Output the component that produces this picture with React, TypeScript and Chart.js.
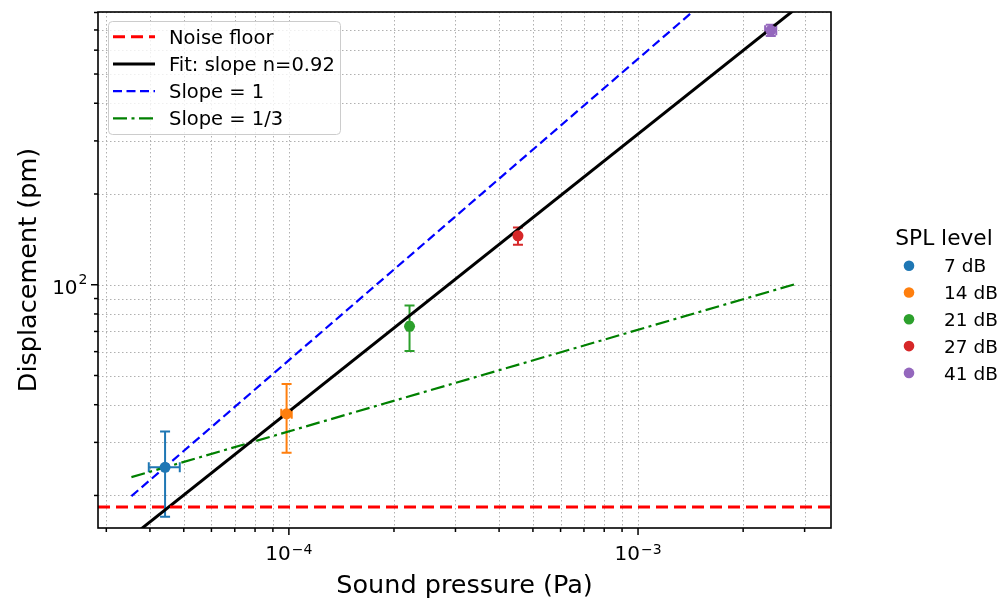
import React, { useEffect, useRef } from 'react';
import { Chart, registerables } from 'chart.js';

Chart.register(...registerables);

// ---------------- data ----------------
const SPL_LEVELS = ['7 dB', '14 dB', '21 dB', '27 dB', '41 dB'];
const SPL_COLORS = ['#1f77b4', '#ff7f0e', '#2ca02c', '#d62728', '#9467bd'];
const PRESSURE_PA = [4.42e-5, 9.85e-5, 2.216e-4, 4.53e-4, 2.4e-3];
const PRESSURE_ERR = [4.5e-6, 3.4e-6, 3.0e-6, 4.0e-6, 8.8e-5];
const DISPLACEMENT_PM = [24.8, 37.3, 72.8, 145.3, 698];
const DISPLACEMENT_ERR = [7.8, 9.6, 12.5, 9.5, 30];

const NOISE_FLOOR_PM = 18.3;
const REF_LINE_X = [3.54e-5, 2.86e-3];
const FIT_LINE_Y = [14.6, 832];
const SLOPE1_LINE_Y = [19.9, 1605];
const SLOPE13_LINE_Y = [23.0, 101];

const X_MIN = 2.84e-5;
const X_MAX = 3.57e-3;
const Y_MIN = 15.6;
const Y_MAX = 803;

const X_TICKS = [
  3e-5, 4e-5, 5e-5, 6e-5, 7e-5, 8e-5, 9e-5,
  1e-4, 2e-4, 3e-4, 4e-4, 5e-4, 6e-4, 7e-4, 8e-4, 9e-4,
  1e-3, 2e-3, 3e-3,
];
const X_MAJOR_TICKS = [1e-4, 1e-3];
const X_MAJOR_EXP = ['\u22124', '\u22123'];
const Y_TICKS = [20, 30, 40, 50, 60, 70, 80, 90, 100, 200, 300, 400, 500, 600, 700, 800];
const Y_MAJOR_TICKS = [100];
const Y_MAJOR_EXP = ['2'];

const X_TITLE = 'Sound pressure (Pa)';
const Y_TITLE = 'Displacement (pm)';
const LEGEND_TITLE = 'SPL level';

const FONT = "'DejaVu Sans', 'Liberation Sans', sans-serif";

const LINE_DEFS = [
  { label: 'Noise floor', color: '#ff0000', width: 3, dash: [12, 6] },
  { label: 'Fit: slope n=0.92', color: '#000000', width: 3, dash: [] as number[] },
  { label: 'Slope = 1', color: '#0000ff', width: 2.2, dash: [9, 4.5] },
  { label: 'Slope = 1/3', color: '#008000', width: 2.2, dash: [14, 4.5, 3, 4.5] },
];

const decorPlugin = {
  id: 'decor',
  beforeDatasetsDraw(chart: any) {
    const { ctx, chartArea: a } = chart;
    const xs = chart.scales.x;
    const ys = chart.scales.y;
    ctx.save();
    ctx.beginPath();
    ctx.rect(a.left, a.top, a.right - a.left, a.bottom - a.top);
    ctx.clip();
    // grid
    ctx.strokeStyle = '#b0b0b0';
    ctx.lineWidth = 1;
    ctx.setLineDash([1.5, 2.5]);
    for (const v of X_TICKS) {
      const px = Math.round(xs.getPixelForValue(v)) + 0.5;
      ctx.beginPath();
      ctx.moveTo(px, a.top);
      ctx.lineTo(px, a.bottom);
      ctx.stroke();
    }
    for (const v of Y_TICKS) {
      const py = Math.round(ys.getPixelForValue(v)) + 0.5;
      ctx.beginPath();
      ctx.moveTo(a.left, py);
      ctx.lineTo(a.right, py);
      ctx.stroke();
    }
    // error bars
    ctx.setLineDash([]);
    ctx.lineWidth = 2;
    const cap = 5;
    SPL_LEVELS.forEach((_, i) => {
      ctx.strokeStyle = SPL_COLORS[i];
      const cx = xs.getPixelForValue(PRESSURE_PA[i]);
      const cy = ys.getPixelForValue(DISPLACEMENT_PM[i]);
      const x0 = xs.getPixelForValue(PRESSURE_PA[i] - PRESSURE_ERR[i]);
      const x1 = xs.getPixelForValue(PRESSURE_PA[i] + PRESSURE_ERR[i]);
      const y0 = ys.getPixelForValue(DISPLACEMENT_PM[i] - DISPLACEMENT_ERR[i]);
      const y1 = ys.getPixelForValue(DISPLACEMENT_PM[i] + DISPLACEMENT_ERR[i]);
      ctx.beginPath();
      ctx.moveTo(x0, cy); ctx.lineTo(x1, cy);
      ctx.moveTo(x0, cy - cap); ctx.lineTo(x0, cy + cap);
      ctx.moveTo(x1, cy - cap); ctx.lineTo(x1, cy + cap);
      ctx.moveTo(cx, y0); ctx.lineTo(cx, y1);
      ctx.moveTo(cx - cap, y0); ctx.lineTo(cx + cap, y0);
      ctx.moveTo(cx - cap, y1); ctx.lineTo(cx + cap, y1);
      ctx.stroke();
    });
    ctx.restore();
  },
  afterDraw(chart: any) {
    const { ctx, chartArea: a } = chart;
    const xs = chart.scales.x;
    const ys = chart.scales.y;
    ctx.save();
    // spines
    ctx.strokeStyle = '#000';
    ctx.lineWidth = 1.6;
    ctx.setLineDash([]);
    ctx.strokeRect(a.left, a.top, a.right - a.left, a.bottom - a.top);
    // ticks
    ctx.lineWidth = 1.5;
    for (const v of X_TICKS) {
      const px = xs.getPixelForValue(v);
      const len = X_MAJOR_TICKS.includes(v) ? 7 : 4;
      ctx.beginPath();
      ctx.moveTo(px, a.bottom);
      ctx.lineTo(px, a.bottom + len);
      ctx.stroke();
    }
    for (const v of Y_TICKS) {
      const py = ys.getPixelForValue(v);
      const len = Y_MAJOR_TICKS.includes(v) ? 7 : 4;
      ctx.beginPath();
      ctx.moveTo(a.left - len, py);
      ctx.lineTo(a.left, py);
      ctx.stroke();
    }
    // tick labels
    ctx.fillStyle = '#000';
    ctx.textBaseline = 'alphabetic';
    ctx.textAlign = 'left';
    const mainFont = `20px ${FONT}`;
    const supFont = `14px ${FONT}`;
    X_MAJOR_TICKS.forEach((v, i) => {
      const px = xs.getPixelForValue(v);
      ctx.font = mainFont;
      const w1 = ctx.measureText('10').width;
      ctx.font = supFont;
      const w2 = ctx.measureText(X_MAJOR_EXP[i]).width;
      const start = px - (w1 + 1 + w2) / 2;
      ctx.font = mainFont;
      ctx.fillText('10', start, a.bottom + 32);
      ctx.font = supFont;
      ctx.fillText(X_MAJOR_EXP[i], start + w1 + 1, a.bottom + 25.5);
    });
    Y_MAJOR_TICKS.forEach((v, i) => {
      const py = ys.getPixelForValue(v);
      ctx.font = mainFont;
      const w1 = ctx.measureText('10').width;
      ctx.font = supFont;
      const w2 = ctx.measureText(Y_MAJOR_EXP[i]).width;
      const right = a.left - 10.5;
      const start = right - (w1 + 1 + w2);
      ctx.font = mainFont;
      ctx.fillText('10', start, py + 9.3);
      ctx.font = supFont;
      ctx.fillText(Y_MAJOR_EXP[i], start + w1 + 1, py - 0.5);
    });
    // axis titles
    ctx.font = `25.5px ${FONT}`;
    ctx.textAlign = 'center';
    ctx.fillText(X_TITLE, (a.left + a.right) / 2, 593);
    ctx.save();
    ctx.translate(35.7, (a.top + a.bottom) / 2);
    ctx.rotate(-Math.PI / 2);
    ctx.fillText(Y_TITLE, 0, 0);
    ctx.restore();

    // legend 1 (inside, upper left)
    ctx.beginPath();
    if (ctx.roundRect) ctx.roundRect(108.5, 21.5, 232, 113, 4);
    else ctx.rect(108.5, 21.5, 232, 113);
    ctx.fillStyle = 'rgba(255,255,255,0.8)';
    ctx.fill();
    ctx.strokeStyle = '#cccccc';
    ctx.lineWidth = 1;
    ctx.stroke();
    ctx.font = `19.5px ${FONT}`;
    ctx.textAlign = 'left';
    LINE_DEFS.forEach((d, i) => {
      const ry = 36.7 + i * 27.2;
      ctx.strokeStyle = d.color;
      ctx.lineWidth = d.width;
      ctx.setLineDash(d.dash);
      ctx.beginPath();
      ctx.moveTo(113, ry);
      ctx.lineTo(155, ry);
      ctx.stroke();
      ctx.setLineDash([]);
      ctx.fillStyle = '#000';
      ctx.fillText(d.label, 169, ry + 7.1);
    });

    // legend 2 (outside right)
    ctx.fillStyle = '#000';
    ctx.font = `21.7px ${FONT}`;
    ctx.textAlign = 'center';
    ctx.fillText(LEGEND_TITLE, 944, 245);
    ctx.font = `18.5px ${FONT}`;
    ctx.textAlign = 'left';
    SPL_LEVELS.forEach((lab, i) => {
      const ry = 265.7 + i * 26.8;
      ctx.fillStyle = SPL_COLORS[i];
      ctx.beginPath();
      ctx.arc(909, ry, 5.3, 0, Math.PI * 2);
      ctx.fill();
      ctx.fillStyle = '#000';
      ctx.fillText(lab, 944, ry + 6.7);
    });
    ctx.restore();
  },
};

export default function App() {
  const ref = useRef<HTMLCanvasElement>(null);
  useEffect(() => {
    const pointSets = SPL_LEVELS.map((lab, i) => ({
      label: lab,
      data: [{ x: PRESSURE_PA[i], y: DISPLACEMENT_PM[i] }],
      showLine: false,
      pointRadius: 5.5,
      pointHoverRadius: 5.5,
      pointBackgroundColor: SPL_COLORS[i],
      pointBorderColor: SPL_COLORS[i],
      pointBorderWidth: 0,
      order: 0,
    }));
    const lineY = [
      [NOISE_FLOOR_PM, NOISE_FLOOR_PM],
      FIT_LINE_Y,
      SLOPE1_LINE_Y,
      SLOPE13_LINE_Y,
    ];
    const lineX = [[X_MIN, X_MAX], REF_LINE_X, REF_LINE_X, REF_LINE_X];
    const lineSets = LINE_DEFS.map((d, k) => ({
      label: d.label,
      data: lineX[k].map((x, j) => ({ x, y: lineY[k][j] })),
      showLine: true,
      borderColor: d.color,
      backgroundColor: d.color,
      borderWidth: d.width,
      borderDash: d.dash,
      borderCapStyle: 'butt',
      pointRadius: 0,
      fill: false,
      order: 1,
    }));
    const chart = new Chart(ref.current as HTMLCanvasElement, {
      type: 'scatter',
      data: { datasets: [...pointSets, ...lineSets] as any },
      options: {
        animation: false,
        responsive: false,
        devicePixelRatio: 1,
        events: [],
        layout: { padding: { left: 98, right: 170, top: 12, bottom: 71 } },
        scales: {
          x: { type: 'logarithmic', min: X_MIN, max: X_MAX, display: false },
          y: { type: 'logarithmic', min: Y_MIN, max: Y_MAX, display: false },
        },
        plugins: {
          legend: { display: false },
          tooltip: { enabled: false },
          title: { display: false },
        },
      } as any,
      plugins: [decorPlugin],
    });
    return () => chart.destroy();
  }, []);
  return (
    <div style={{ position: 'fixed', left: 0, top: 0, width: 1001, height: 599, background: '#ffffff' }}>
      <canvas ref={ref} width={1001} height={599} style={{ display: 'block', width: 1001, height: 599 }} />
    </div>
  );
}
